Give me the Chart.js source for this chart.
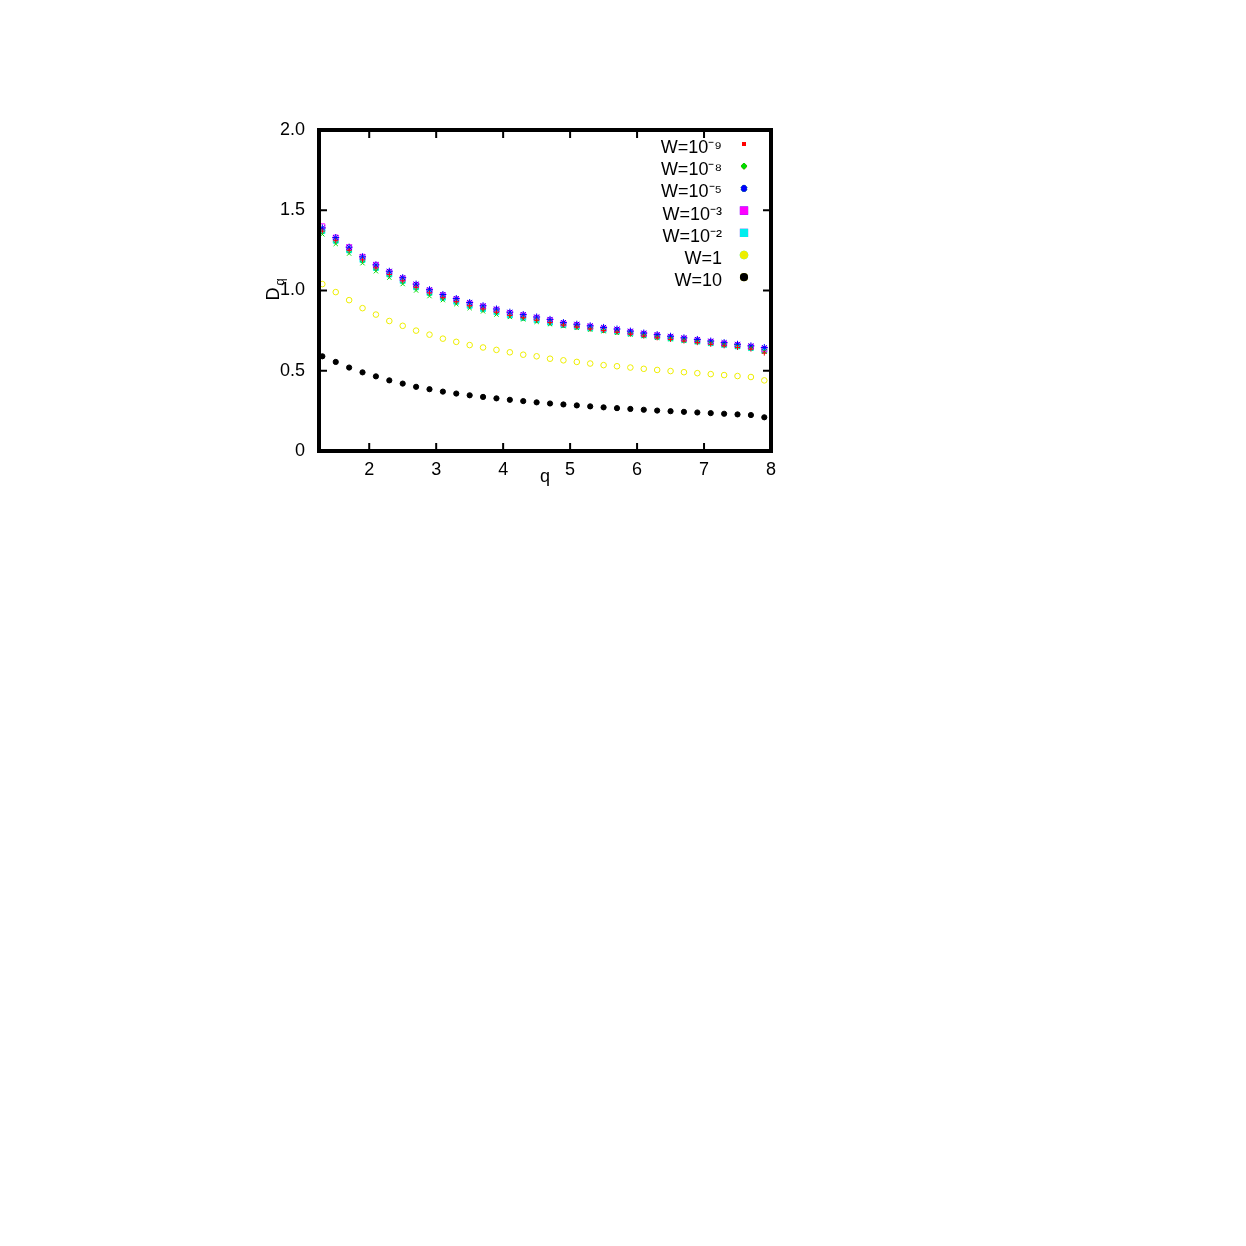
<!DOCTYPE html>
<html>
<head>
<meta charset="utf-8">
<script src="https://cdn.jsdelivr.net/npm/chart.js@4"></script>
<style>
  body { margin: 0; background: #fff; }
  #box { position: absolute; left: 0; top: 0; width: 1246px; height: 1246px; }
</style>
</head>
<body>
<div id="box"><canvas id="chart--dq"></canvas></div>
<script>
const qValues = [1.3,1.5,1.7,1.9,2.1,2.3,2.5,2.7,2.9,3.1,3.3,3.5,3.7,3.9,4.1,4.3,4.5,4.7,4.9,5.1,5.3,5.5,5.7,5.9,6.1,6.3,6.5,6.7,6.9,7.1,7.3,7.5,7.7,7.9]

const dqW1e9 = [1.37,1.31,1.25,1.19,1.14,1.10,1.06,1.02,0.985,0.955,0.93,0.905,0.885,0.865,0.845,0.83,0.815,0.80,0.785,0.772,0.76,0.75,0.74,0.728,0.716,0.705,0.695,0.685,0.675,0.665,0.655,0.645,0.635,0.61]
const dqW1e8 = [1.35,1.29,1.23,1.17,1.12,1.08,1.04,1.00,0.965,0.94,0.915,0.89,0.87,0.85,0.835,0.82,0.805,0.79,0.778,0.767,0.756,0.746,0.736,0.726,0.716,0.706,0.697,0.688,0.679,0.67,0.66,0.65,0.64,0.62]
const dqW1e5 = [1.39,1.33,1.27,1.21,1.16,1.12,1.08,1.04,1.005,0.975,0.95,0.925,0.905,0.885,0.865,0.85,0.835,0.82,0.80,0.79,0.78,0.77,0.76,0.747,0.735,0.725,0.715,0.705,0.695,0.685,0.675,0.665,0.655,0.645]
const dqW1e3 = [1.40,1.33,1.27,1.21,1.16,1.115,1.075,1.035,1.00,0.97,0.945,0.92,0.90,0.88,0.86,0.845,0.83,0.815,0.795,0.785,0.775,0.764,0.754,0.742,0.73,0.72,0.71,0.70,0.69,0.68,0.67,0.66,0.65,0.635]
const dqW1e2 = [1.37,1.31,1.25,1.19,1.14,1.10,1.06,1.02,0.985,0.955,0.93,0.905,0.885,0.865,0.845,0.83,0.815,0.80,0.785,0.775,0.765,0.755,0.745,0.733,0.722,0.712,0.702,0.692,0.682,0.672,0.662,0.652,0.642,0.625]
const dqW1 = [1.04,0.99,0.94,0.89,0.85,0.81,0.78,0.75,0.725,0.70,0.68,0.66,0.645,0.63,0.615,0.60,0.59,0.575,0.565,0.555,0.545,0.535,0.528,0.52,0.512,0.505,0.498,0.491,0.485,0.479,0.473,0.467,0.461,0.44]
const dqW10 = [0.59,0.555,0.52,0.49,0.465,0.44,0.42,0.40,0.385,0.37,0.358,0.347,0.337,0.328,0.319,0.311,0.303,0.296,0.29,0.284,0.278,0.272,0.267,0.262,0.257,0.252,0.248,0.244,0.24,0.236,0.232,0.228,0.224,0.21]

const legendNames = ['W=10⁻⁹','W=10⁻⁸','W=10⁻⁵','W=10⁻³','W=10⁻²','W=1','W=10']
const yTicks = [0, 0.5, 1, 1.5, 2]
const xTicks = [2, 3, 4, 5, 6, 7, 8]

function pts(vals) {
	return vals.map(function(v, i) { return {x: qValues[i], y: v} })
}

const sets = [
	{label: legendNames[0], data: pts(dqW1e9), pointStyle: 'cross', radius: 2.5, borderColor: '#ff0000', backgroundColor: '#ff0000'},
	{label: legendNames[1], data: pts(dqW1e8), pointStyle: 'crossRot', radius: 3, borderColor: '#00dd00', backgroundColor: '#00dd00'},
	{label: legendNames[2], data: pts(dqW1e5), pointStyle: 'star', radius: 3.5, borderColor: '#0000ff', backgroundColor: '#0000ff'},
	{label: legendNames[3], data: pts(dqW1e3), pointStyle: 'rect', radius: 3.5, borderColor: '#ff00ff', backgroundColor: 'rgba(0,0,0,0)'},
	{label: legendNames[4], data: pts(dqW1e2), pointStyle: 'rect', radius: 3.5, borderColor: '#00eeee', backgroundColor: '#00eeee'},
	{label: legendNames[5], data: pts(dqW1), pointStyle: 'circle', radius: 2.8, borderColor: '#eeee00', backgroundColor: 'rgba(0,0,0,0)'},
	{label: legendNames[6], data: pts(dqW10), pointStyle: 'circle', radius: 2.6, borderColor: '#000000', backgroundColor: '#000000'}
].map(function(d) {
	d.showLine = false
	d.pointRadius = d.radius
	d.pointBorderWidth = 1
	return d
})

const framePlugin = {
	id: 'frame',
	afterDraw: function(chart) {
		const c = chart.ctx, a = chart.chartArea
		const xs = chart.scales.x, ys = chart.scales.y
		c.save()
		c.strokeStyle = '#000'
		c.lineWidth = 2
		xTicks.forEach(function(t) {
			const px = xs.getPixelForValue(t)
			c.beginPath(); c.moveTo(px, a.bottom); c.lineTo(px, a.bottom - 8)
			c.moveTo(px, a.top); c.lineTo(px, a.top + 8); c.stroke()
		})
		yTicks.forEach(function(t) {
			const py = ys.getPixelForValue(t)
			c.beginPath(); c.moveTo(a.left, py); c.lineTo(a.left + 8, py)
			c.moveTo(a.right, py); c.lineTo(a.right - 8, py); c.stroke()
		})
		c.lineWidth = 4
		c.strokeRect(a.left, a.top, a.right - a.left, a.bottom - a.top)
		// legend
		c.font = '18px "Liberation Sans", Arial, sans-serif'
		c.fillStyle = '#000'
		c.textAlign = 'right'
		c.textBaseline = 'middle'
		sets.forEach(function(d, i) {
			const y = 147 + i * 22.2
			c.fillText(d.label, 722, y + 1)
			Chart.helpers.drawPoint(c, {pointStyle: d.pointStyle, radius: d.radius - 0.5, borderWidth: 1}, 744, y - 3)
			c.fillStyle = d.backgroundColor
			c.strokeStyle = d.borderColor
			c.beginPath()
			Chart.helpers.drawPoint(c, {pointStyle: d.pointStyle, radius: d.radius - 0.5, borderWidth: 1}, 744, y - 3)
			c.fillStyle = '#000'
		})
		// axis titles
		c.textAlign = 'center'
		c.fillText('q', 545, 477)
		c.translate(274, 290)
		c.rotate(-Math.PI / 2)
		c.fillText('D', -4, 0)
		c.font = '13px "Liberation Sans", Arial, sans-serif'
		c.fillText('q', 8, 6)
		c.restore()
	}
}

const ctx = document.getElementById('chart--dq').getContext('2d')
const chart__dq = new Chart(ctx, {
	type: 'scatter',
	data: { datasets: sets },
	options: {
		animation: false,
		responsive: true,
		maintainAspectRatio: false,
		layout: { padding: { left: 269, top: 130, right: 475, bottom: 765 } },
		plugins: { legend: { display: false }, tooltip: { enabled: false } },
		scales: {
			x: {
				type: 'linear', min: 1.25, max: 8,
				afterBuildTicks: function(s) { s.ticks = xTicks.map(function(v) { return {value: v} }) },
				afterFit: function(s) { s.height = 30 },
				grid: { display: false },
				border: { display: false },
				ticks: { color: '#000', padding: 0, maxRotation: 0, font: { size: 18, family: '"Liberation Sans", Arial, sans-serif' } }
			},
			y: {
				type: 'linear', min: 0, max: 2,
				afterBuildTicks: function(s) { s.ticks = yTicks.map(function(v) { return {value: v} }) },
				afterFit: function(s) { s.width = 50 },
				grid: { display: false },
				border: { display: false },
				ticks: { color: '#000', padding: 6, font: { size: 18, family: '"Liberation Sans", Arial, sans-serif' } }
			}
		}
	},
	plugins: [framePlugin]
})
</script>
</body>
</html>
